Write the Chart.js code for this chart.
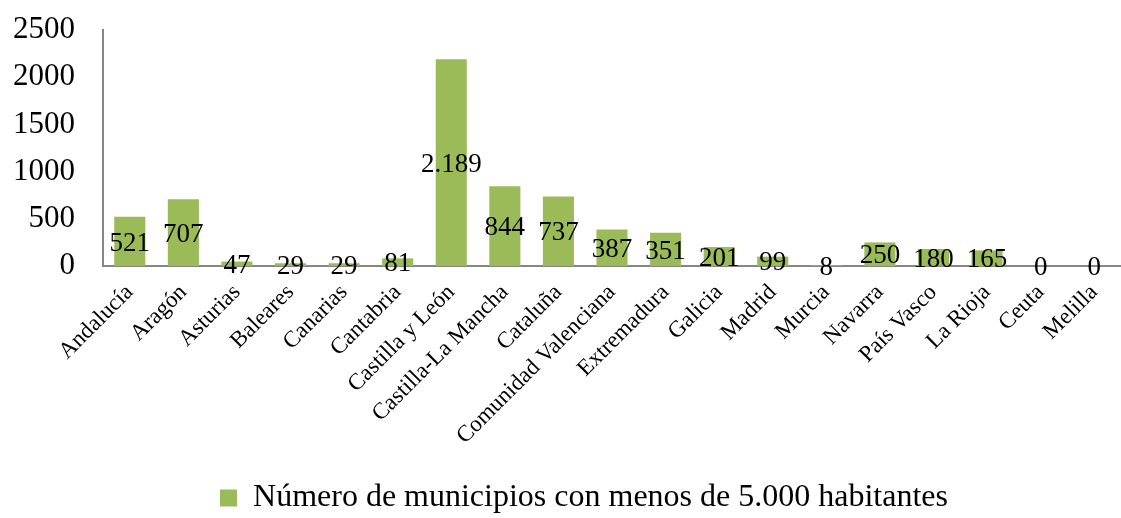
<!DOCTYPE html>
<html>
<head>
<meta charset="utf-8">
<script src="https://cdn.jsdelivr.net/npm/chart.js@4/dist/chart.umd.min.js"></script>
<style>
  html, body { margin: 0; padding: 0; background: #fff; }
  #wrap { width: 1121px; height: 518px; position: relative; }
</style>
</head>
<body>
<div id="wrap"><canvas id="chart"></canvas></div>
<script>
// Regions and number of municipalities under 5,000 inhabitants
var regions = ['Andalucía', 'Aragón', 'Asturias', 'Baleares', 'Canarias', 'Cantabria',
    'Castilla y León', 'Castilla-La Mancha', 'Cataluña', 'Comunidad Valenciana',
    'Extremadura', 'Galicia', 'Madrid', 'Murcia', 'Navarra', 'País Vasco',
    'La Rioja', 'Ceuta', 'Melilla'];
var municipios = [521, 707, 47, 29, 29, 81, 2189, 844, 737, 387, 351, 201, 99, 8, 250, 180, 165, 0, 0];
var yTicks = [0, 500, 1000, 1500, 2000, 2500];
var seriesName = 'Número de municipios con menos de 5.000 habitantes';

var FONT = "'Liberation Serif', 'Times New Roman', serif";

function fmt(v) {
    return String(v).replace(/\B(?=(\d{3})+(?!\d))/g, '.');
}

// value labels drawn in the middle of each bar
var midLabels = {
    id: 'midLabels',
    afterDatasetsDraw: function(chart) {
        var ctx = chart.ctx;
        var meta = chart.getDatasetMeta(0);
        var y = chart.scales.y;
        ctx.save();
        ctx.font = '27px ' + FONT;
        ctx.fillStyle = '#000';
        ctx.textAlign = 'center';
        ctx.textBaseline = 'middle';
        meta.data.forEach(function(bar, i) {
            var v = municipios[i];
            var py = y.getPixelForValue(v / 2);
            ctx.fillText(fmt(v), bar.x, py + 2);
        });
        ctx.restore();
    }
};

// legend in the original sits a bit right of the canvas centre
var legendShift = {
    id: 'legendShift',
    beforeDraw: function(chart) {
        if (chart.legend) chart.legend.left = 47;
    }
};

new Chart(document.getElementById('chart').getContext('2d'), {
    type: 'bar',
    data: {
        labels: regions,
        datasets: [{
            label: seriesName,
            data: municipios,
            backgroundColor: '#9bbb59',
            borderWidth: 0,
            categoryPercentage: 1,
            barPercentage: 0.58
        }]
    },
    options: {
        responsive: true,
        maintainAspectRatio: false,
        animation: false,
        layout: { padding: { top: 0, right: 0, left: 0, bottom: -6 } },
        plugins: {
            tooltip: { enabled: false },
            legend: {
                position: 'bottom',
                labels: {
                    color: '#000',
                    font: { family: FONT, size: 32 },
                    boxWidth: 17,
                    boxHeight: 17,
                    padding: 4
                }
            }
        },
        scales: {
            x: {
                grid: { display: false, drawTicks: false },
                border: { color: '#868686', width: 2 },
                ticks: {
                    color: '#000',
                    font: { family: FONT, size: 23 },
                    minRotation: 45,
                    maxRotation: 45,
                    autoSkip: false,
                    padding: 13
                },
                afterFit: function(s) { s.height = 212; s.paddingRight = 0; }
            },
            y: {
                min: 0,
                max: 2500,
                afterBuildTicks: function(s) {
                    s.ticks = yTicks.map(function(v) { return { value: v }; });
                },
                grid: { display: false, drawTicks: false },
                border: { color: '#868686', width: 2 },
                ticks: {
                    color: '#000',
                    font: { family: FONT, size: 31 },
                    padding: 28,
                    callback: function(v) { return String(v); }
                },
                afterFit: function(s) { s.width = 103; s.paddingTop = 30; }
            }
        }
    },
    plugins: [midLabels, legendShift]
});
</script>
</body>
</html>
